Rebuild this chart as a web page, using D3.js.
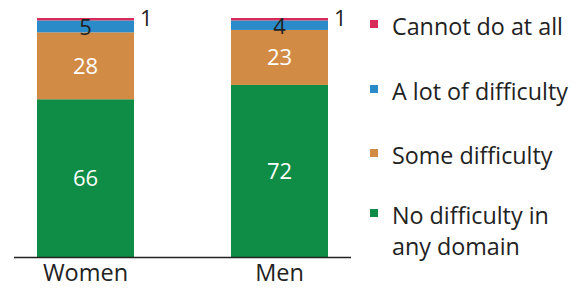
<!DOCTYPE html>
<html>
<head>
<meta charset="utf-8">
<script src="https://cdn.jsdelivr.net/npm/d3@7"></script>
<style>
  body { margin: 0; background: #fff; }
  text { font-family: "Open Sans", Lato, sans-serif; }
</style>
</head>
<body>
<div id="chart"></div>
<script>
// data
const groups = ["Women", "Men"];
const categories = ["No difficulty in any domain", "Some difficulty", "A lot of difficulty", "Cannot do at all"];
const noDifficulty = [66, 72];
const someDifficulty = [28, 23];
const aLotDifficulty = [5, 4];
const cannotDo = [1, 1];
const colors = ["#0f8c45", "#d28b45", "#2b8ac8", "#d92b5a"];
const legendLines = [["Cannot do at all"], ["A lot of difficulty"], ["Some difficulty"], ["No difficulty in", "any domain"]];
const legendColors = ["#d92b5a", "#2b8ac8", "#d28b45", "#0f8c45"];

const width = 582, height = 289;
const svg = d3.select("#chart").append("svg")
    .attr("width", width)
    .attr("height", height);

let rows = groups.map((g, i) => ({
    group: g,
    "No difficulty in any domain": noDifficulty[i],
    "Some difficulty": someDifficulty[i],
    "A lot of difficulty": aLotDifficulty[i],
    "Cannot do at all": cannotDo[i]
}));
let series = d3.stack().keys(categories)(rows);

// bar centres 85.5 and 279.5
let x = d3.scalePoint().domain(groups).range([85.5, 279.5]);
const barW = 97;

let y = d3.scaleLinear().domain([0, 100]).range([257, 18]);

let layers = svg.selectAll("g.layer").data(series).enter()
    .append("g")
    .attr("class", "layer")
    .attr("fill", (d, i) => colors[i]);

layers.selectAll("rect").data(d => d).enter()
    .append("rect")
    .attr("x", d => x(d.data.group) - barW / 2)
    .attr("width", barW)
    .attr("y", d => y(d[1]))
    .attr("height", d => y(d[0]) - y(d[1]));

// axis line
svg.append("line")
    .attr("x1", 14).attr("x2", 351)
    .attr("y1", 257.5).attr("y2", 257.5)
    .attr("stroke", "#222").attr("stroke-width", 1.3);

svg.selectAll("text.grp").data(groups).enter()
    .append("text")
    .attr("class", "grp")
    .attr("x", d => x(d))
    .attr("y", 281)
    .attr("text-anchor", "middle")
    .attr("font-size", 23.5)
    .attr("fill", "#222")
    .text(d => d);

// value labels inside
[0, 1].forEach(si => {
    svg.selectAll("text.v" + si).data(series[si]).enter()
        .append("text")
        .attr("x", d => x(d.data.group))
        .attr("y", d => (y(d[0]) + y(d[1])) / 2 + 8)
        .attr("text-anchor", "middle")
        .attr("font-size", 22)
        .attr("fill", "#fff")
        .text(d => d[1] - d[0]);
});
// a lot of difficulty: dark, centred
svg.selectAll("text.v2").data(series[2]).enter()
    .append("text")
    .attr("x", d => x(d.data.group))
    .attr("y", d => (y(d[0]) + y(d[1])) / 2 + 9)
    .attr("text-anchor", "middle")
    .attr("font-size", 22)
    .attr("fill", "#222")
    .text(d => d[1] - d[0]);
// cannot do: to the right of bar
svg.selectAll("text.v3").data(series[3]).enter()
    .append("text")
    .attr("x", d => x(d.data.group) + barW / 2 + 6)
    .attr("y", d => y(d[1]) + 8)
    .attr("font-size", 22)
    .attr("fill", "#222")
    .text(d => d[1] - d[0]);

// legend
const legendY = [27, 92, 156, 216];
let lg = svg.selectAll("g.leg").data(legendLines).enter()
    .append("g")
    .attr("class", "leg")
    .attr("transform", (d, i) => "translate(370," + legendY[i] + ")");
lg.append("rect")
    .attr("x", 0).attr("y", -7)
    .attr("width", 8).attr("height", 8)
    .attr("fill", (d, i) => legendColors[i]);
lg.selectAll("text").data(d => d).enter()
    .append("text")
    .attr("x", 22)
    .attr("y", (d, j) => 8 + j * 31)
    .attr("font-size", 23.3)
    .attr("fill", "#222")
    .text(d => d);
</script>
</body>
</html>
